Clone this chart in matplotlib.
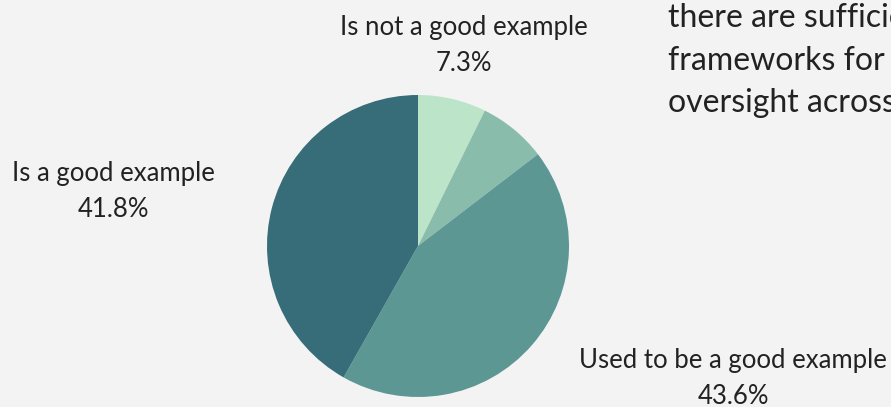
import matplotlib
matplotlib.use("Agg")
import matplotlib.pyplot as plt

shares = [7.3, 7.3, 43.6, 41.8]
labels = ["Is not a good example", "", "Used to be a good example", "Is a good example"]
colors = ["#bce4c9", "#8abcab", "#5c9794", "#376d78"]
# where each label block sits, in pie radii from the centre
label_pos = [(0.305, 1.45), None, (2.086, -0.755), (-2.02, 0.483)]
heading = ["there are sufficient", "frameworks for", "oversight across"]

plt.rcParams["font.family"] = ["Lato", "DejaVu Sans"]
ink = "#222222"

fig = plt.figure(figsize=(8.91, 4.07), dpi=100, facecolor="#f3f3f3")
ax = fig.add_axes([0, 0, 1, 1])
ax.set_facecolor("#f3f3f3")

ax.pie(shares, colors=colors, startangle=90, counterclock=False, radius=1,
       wedgeprops=dict(linewidth=0))

for lab, val, pos in zip(labels, shares, label_pos):
    if pos is None:
        continue
    x, y = pos
    ax.text(x, y, lab, ha="center", va="center", fontsize=18.5, color=ink)
    ax.text(x, y - 0.24, f"{val}%", ha="center", va="center", fontsize=18.5, color=ink)

for i, line in enumerate(heading):
    ax.text(1.656, 1.45 - i * 0.282, line, ha="left", va="baseline",
            fontsize=23, color=ink)

ax.set_xlim(-418 / 151, (891 - 418) / 151)
ax.set_ylim(-161 / 151, 246 / 151)
ax.set_aspect("auto")
ax.axis("off")

fig.savefig("out.png", dpi=100, facecolor=fig.get_facecolor())
